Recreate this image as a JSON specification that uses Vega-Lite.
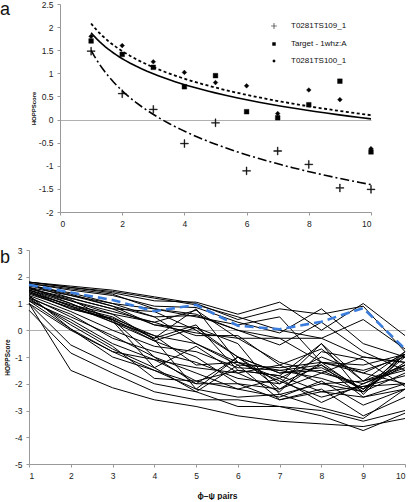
{
"$schema":"https://vega.github.io/schema/vega-lite/v6.json",
"padding":{"left":0,"top":0,"right":0,"bottom":0},
"spacing":18,
"config":{"font":"Liberation Sans","view":{"stroke":null},
"axis":{"grid":false,"labelFontSize":8.5,"labelColor":"#222","domainColor":"#999","tickColor":"#999","tickSize":3,"labelPadding":4,"titleFontWeight":"bold","titleColor":"#111","labelOverlap":false},
"title":{"fontSize":18,"fontWeight":"normal","anchor":"start","frame":"group","color":"#111","baseline":"alphabetic"}},
"datasets":{
"a":[
{"series":"T0281TS109_1","x":1,"y":1.48},{"series":"T0281TS109_1","x":2,"y":0.56},{"series":"T0281TS109_1","x":3,"y":0.22},{"series":"T0281TS109_1","x":4,"y":-0.52},{"series":"T0281TS109_1","x":5,"y":-0.07},{"series":"T0281TS109_1","x":6,"y":-1.11},{"series":"T0281TS109_1","x":7,"y":-0.68},{"series":"T0281TS109_1","x":8,"y":-0.97},{"series":"T0281TS109_1","x":9,"y":-1.48},{"series":"T0281TS109_1","x":10,"y":-1.51},
{"series":"Target - 1whz:A","x":1,"y":1.70},{"series":"Target - 1whz:A","x":2,"y":1.41},{"series":"Target - 1whz:A","x":3,"y":1.13},{"series":"Target - 1whz:A","x":4,"y":0.71},{"series":"Target - 1whz:A","x":5,"y":0.95},{"series":"Target - 1whz:A","x":6,"y":0.17},{"series":"Target - 1whz:A","x":7,"y":0.04},{"series":"Target - 1whz:A","x":8,"y":0.32},{"series":"Target - 1whz:A","x":9,"y":0.83},{"series":"Target - 1whz:A","x":10,"y":-0.70},
{"series":"T0281TS100_1","x":1,"y":1.80},{"series":"T0281TS100_1","x":2,"y":1.60},{"series":"T0281TS100_1","x":3,"y":1.25},{"series":"T0281TS100_1","x":4,"y":1.02},{"series":"T0281TS100_1","x":5,"y":0.80},{"series":"T0281TS100_1","x":6,"y":0.73},{"series":"T0281TS100_1","x":7,"y":0.13},{"series":"T0281TS100_1","x":8,"y":0.64},{"series":"T0281TS100_1","x":9,"y":0.43},{"series":"T0281TS100_1","x":10,"y":-0.63}
],
"b":[
{"model":"m1","x":1,"y":1.0},{"model":"m1","x":2,"y":-1.5},{"model":"m1","x":3,"y":-2.15},{"model":"m1","x":4,"y":-2.6},{"model":"m1","x":5,"y":-2.85},{"model":"m1","x":6,"y":-3.2},{"model":"m1","x":7,"y":-3.4},{"model":"m1","x":8,"y":-3.5},{"model":"m1","x":9,"y":-3.6},{"model":"m1","x":10,"y":-3.3},
{"model":"m2","x":1,"y":0.75},{"model":"m2","x":2,"y":-0.85},{"model":"m2","x":3,"y":-1.6},{"model":"m2","x":4,"y":-2.3},{"model":"m2","x":5,"y":-2.6},{"model":"m2","x":6,"y":-2.6},{"model":"m2","x":7,"y":-2.85},{"model":"m2","x":8,"y":-3.0},{"model":"m2","x":9,"y":-3.4},{"model":"m2","x":10,"y":-3.0},
{"model":"m3","x":1,"y":1.0},{"model":"m3","x":2,"y":-0.55},{"model":"m3","x":3,"y":-1.3},{"model":"m3","x":4,"y":-2.0},{"model":"m3","x":5,"y":-2.3},{"model":"m3","x":6,"y":-2.85},{"model":"m3","x":7,"y":-2.85},{"model":"m3","x":8,"y":-3.2},{"model":"m3","x":9,"y":-3.75},{"model":"m3","x":10,"y":-3.1},
{"model":"m4","x":1,"y":1.1},{"model":"m4","x":2,"y":0.05},{"model":"m4","x":3,"y":-1.0},{"model":"m4","x":4,"y":-1.5},{"model":"m4","x":5,"y":-2.2},{"model":"m4","x":6,"y":-2.5},{"model":"m4","x":7,"y":-2.4},{"model":"m4","x":8,"y":-2.9},{"model":"m4","x":9,"y":-3.3},{"model":"m4","x":10,"y":-2.2},
{"model":"m5","x":1,"y":1.2},{"model":"m5","x":2,"y":0.2},{"model":"m5","x":3,"y":-0.7},{"model":"m5","x":4,"y":-1.4},{"model":"m5","x":5,"y":-2.3},{"model":"m5","x":6,"y":-1.3},{"model":"m5","x":7,"y":-2.6},{"model":"m5","x":8,"y":-2.3},{"model":"m5","x":9,"y":-2.5},{"model":"m5","x":10,"y":-2.0},
{"model":"m6","x":1,"y":1.3},{"model":"m6","x":2,"y":0.05},{"model":"m6","x":3,"y":-0.8},{"model":"m6","x":4,"y":-1.1},{"model":"m6","x":5,"y":-1.9},{"model":"m6","x":6,"y":-2.2},{"model":"m6","x":7,"y":-1.8},{"model":"m6","x":8,"y":-2.7},{"model":"m6","x":9,"y":-2.0},{"model":"m6","x":10,"y":-1.3},
{"model":"m7","x":1,"y":1.4},{"model":"m7","x":2,"y":0.8},{"model":"m7","x":3,"y":0.4},{"model":"m7","x":4,"y":-1.0},{"model":"m7","x":5,"y":-2.0},{"model":"m7","x":6,"y":-1.0},{"model":"m7","x":7,"y":-2.2},{"model":"m7","x":8,"y":-1.2},{"model":"m7","x":9,"y":-2.3},{"model":"m7","x":10,"y":-1.0},
{"model":"m8","x":1,"y":1.5},{"model":"m8","x":2,"y":0.9},{"model":"m8","x":3,"y":0.5},{"model":"m8","x":4,"y":-0.3},{"model":"m8","x":5,"y":0.8},{"model":"m8","x":6,"y":-1.2},{"model":"m8","x":7,"y":-1.5},{"model":"m8","x":8,"y":-1.3},{"model":"m8","x":9,"y":-2.2},{"model":"m8","x":10,"y":-0.9},
{"model":"m9","x":1,"y":1.6},{"model":"m9","x":2,"y":1.0},{"model":"m9","x":3,"y":0.3},{"model":"m9","x":4,"y":-0.4},{"model":"m9","x":5,"y":0.1},{"model":"m9","x":6,"y":-1.0},{"model":"m9","x":7,"y":-2.0},{"model":"m9","x":8,"y":-0.5},{"model":"m9","x":9,"y":-1.9},{"model":"m9","x":10,"y":-0.8},
{"model":"m10","x":1,"y":1.7},{"model":"m10","x":2,"y":1.2},{"model":"m10","x":3,"y":0.8},{"model":"m10","x":4,"y":0.2},{"model":"m10","x":5,"y":-0.1},{"model":"m10","x":6,"y":-0.3},{"model":"m10","x":7,"y":-1.2},{"model":"m10","x":8,"y":-1.6},{"model":"m10","x":9,"y":-1.0},{"model":"m10","x":10,"y":-1.2},
{"model":"m11","x":1,"y":1.8},{"model":"m11","x":2,"y":1.6},{"model":"m11","x":3,"y":1.4},{"model":"m11","x":4,"y":1.1},{"model":"m11","x":5,"y":1.05},{"model":"m11","x":6,"y":0.6},{"model":"m11","x":7,"y":1.05},{"model":"m11","x":8,"y":0.0},{"model":"m11","x":9,"y":1.0},{"model":"m11","x":10,"y":-0.2},
{"model":"m12","x":1,"y":1.8},{"model":"m12","x":2,"y":1.65},{"model":"m12","x":3,"y":1.5},{"model":"m12","x":4,"y":1.25},{"model":"m12","x":5,"y":1.0},{"model":"m12","x":6,"y":0.4},{"model":"m12","x":7,"y":0.8},{"model":"m12","x":8,"y":0.6},{"model":"m12","x":9,"y":0.9},{"model":"m12","x":10,"y":-0.8},
{"model":"m13","x":1,"y":1.75},{"model":"m13","x":2,"y":1.5},{"model":"m13","x":3,"y":1.3},{"model":"m13","x":4,"y":0.9},{"model":"m13","x":5,"y":0.85},{"model":"m13","x":6,"y":0.3},{"model":"m13","x":7,"y":-0.1},{"model":"m13","x":8,"y":0.8},{"model":"m13","x":9,"y":-0.5},{"model":"m13","x":10,"y":-1.0},
{"model":"m14","x":1,"y":1.7},{"model":"m14","x":2,"y":1.3},{"model":"m14","x":3,"y":0.9},{"model":"m14","x":4,"y":0.5},{"model":"m14","x":5,"y":0.55},{"model":"m14","x":6,"y":0.0},{"model":"m14","x":7,"y":-0.55},{"model":"m14","x":8,"y":0.3},{"model":"m14","x":9,"y":-0.8},{"model":"m14","x":10,"y":-1.5},
{"model":"m15","x":1,"y":1.6},{"model":"m15","x":2,"y":1.1},{"model":"m15","x":3,"y":0.7},{"model":"m15","x":4,"y":0.3},{"model":"m15","x":5,"y":0.75},{"model":"m15","x":6,"y":-0.3},{"model":"m15","x":7,"y":-0.3},{"model":"m15","x":8,"y":-0.3},{"model":"m15","x":9,"y":-1.0},{"model":"m15","x":10,"y":-1.2},
{"model":"m16","x":1,"y":1.5},{"model":"m16","x":2,"y":1.0},{"model":"m16","x":3,"y":0.4},{"model":"m16","x":4,"y":-0.3},{"model":"m16","x":5,"y":0.2},{"model":"m16","x":6,"y":-1.5},{"model":"m16","x":7,"y":-1.7},{"model":"m16","x":8,"y":-0.5},{"model":"m16","x":9,"y":-2.4},{"model":"m16","x":10,"y":-0.9},
{"model":"m17","x":1,"y":1.45},{"model":"m17","x":2,"y":0.9},{"model":"m17","x":3,"y":0.3},{"model":"m17","x":4,"y":-0.2},{"model":"m17","x":5,"y":-0.5},{"model":"m17","x":6,"y":-1.2},{"model":"m17","x":7,"y":-1.8},{"model":"m17","x":8,"y":-1.0},{"model":"m17","x":9,"y":-1.6},{"model":"m17","x":10,"y":-2.0},
{"model":"m18","x":1,"y":1.3},{"model":"m18","x":2,"y":0.7},{"model":"m18","x":3,"y":0.0},{"model":"m18","x":4,"y":-0.6},{"model":"m18","x":5,"y":-0.8},{"model":"m18","x":6,"y":-1.4},{"model":"m18","x":7,"y":-1.5},{"model":"m18","x":8,"y":-1.8},{"model":"m18","x":9,"y":-2.3},{"model":"m18","x":10,"y":-1.6},
{"model":"m19","x":1,"y":1.2},{"model":"m19","x":2,"y":0.6},{"model":"m19","x":3,"y":-0.3},{"model":"m19","x":4,"y":-0.8},{"model":"m19","x":5,"y":-1.2},{"model":"m19","x":6,"y":-1.8},{"model":"m19","x":7,"y":-2.0},{"model":"m19","x":8,"y":-1.3},{"model":"m19","x":9,"y":-2.5},{"model":"m19","x":10,"y":-2.2},
{"model":"m20","x":1,"y":1.1},{"model":"m20","x":2,"y":0.4},{"model":"m20","x":3,"y":-0.5},{"model":"m20","x":4,"y":-1.1},{"model":"m20","x":5,"y":-1.4},{"model":"m20","x":6,"y":-1.6},{"model":"m20","x":7,"y":-1.3},{"model":"m20","x":8,"y":-2.0},{"model":"m20","x":9,"y":-1.9},{"model":"m20","x":10,"y":-1.5},
{"model":"m21","x":1,"y":1.65},{"model":"m21","x":2,"y":1.4},{"model":"m21","x":3,"y":1.0},{"model":"m21","x":4,"y":0.8},{"model":"m21","x":5,"y":0.6},{"model":"m21","x":6,"y":0.0},{"model":"m21","x":7,"y":-0.3},{"model":"m21","x":8,"y":-1.2},{"model":"m21","x":9,"y":-1.3},{"model":"m21","x":10,"y":-0.9},
{"model":"m22","x":1,"y":1.55},{"model":"m22","x":2,"y":1.2},{"model":"m22","x":3,"y":0.8},{"model":"m22","x":4,"y":0.7},{"model":"m22","x":5,"y":0.0},{"model":"m22","x":6,"y":-1.0},{"model":"m22","x":7,"y":-1.6},{"model":"m22","x":8,"y":-1.5},{"model":"m22","x":9,"y":-2.2},{"model":"m22","x":10,"y":-1.3},
{"model":"m23","x":1,"y":1.35},{"model":"m23","x":2,"y":0.85},{"model":"m23","x":3,"y":0.4},{"model":"m23","x":4,"y":-0.4},{"model":"m23","x":5,"y":-1.0},{"model":"m23","x":6,"y":-2.0},{"model":"m23","x":7,"y":-2.2},{"model":"m23","x":8,"y":-1.6},{"model":"m23","x":9,"y":-2.0},{"model":"m23","x":10,"y":-1.4},
{"model":"m24","x":1,"y":1.25},{"model":"m24","x":2,"y":0.5},{"model":"m24","x":3,"y":-0.2},{"model":"m24","x":4,"y":-1.0},{"model":"m24","x":5,"y":-1.6},{"model":"m24","x":6,"y":-2.2},{"model":"m24","x":7,"y":-2.5},{"model":"m24","x":8,"y":-1.9},{"model":"m24","x":9,"y":-2.8},{"model":"m24","x":10,"y":-2.2},
{"model":"m25","x":1,"y":1.15},{"model":"m25","x":2,"y":0.3},{"model":"m25","x":3,"y":-0.6},{"model":"m25","x":4,"y":-1.8},{"model":"m25","x":5,"y":-1.9},{"model":"m25","x":6,"y":-1.5},{"model":"m25","x":7,"y":-1.7},{"model":"m25","x":8,"y":-2.3},{"model":"m25","x":9,"y":-2.1},{"model":"m25","x":10,"y":-2.0},
{"model":"m26","x":1,"y":1.6},{"model":"m26","x":2,"y":1.3},{"model":"m26","x":3,"y":1.0},{"model":"m26","x":4,"y":0.5},{"model":"m26","x":5,"y":-0.5},{"model":"m26","x":6,"y":-1.3},{"model":"m26","x":7,"y":-1.4},{"model":"m26","x":8,"y":-1.2},{"model":"m26","x":9,"y":-1.5},{"model":"m26","x":10,"y":-1.0},
{"model":"m27","x":1,"y":1.7},{"model":"m27","x":2,"y":1.35},{"model":"m27","x":3,"y":0.9},{"model":"m27","x":4,"y":0.2},{"model":"m27","x":5,"y":0.1},{"model":"m27","x":6,"y":-0.5},{"model":"m27","x":7,"y":-2.4},{"model":"m27","x":8,"y":-2.0},{"model":"m27","x":9,"y":-2.3},{"model":"m27","x":10,"y":-0.8},
{"model":"m28","x":1,"y":1.4},{"model":"m28","x":2,"y":0.95},{"model":"m28","x":3,"y":0.6},{"model":"m28","x":4,"y":-0.35},{"model":"m28","x":5,"y":-2.2},{"model":"m28","x":6,"y":-1.0},{"model":"m28","x":7,"y":-1.6},{"model":"m28","x":8,"y":-1.4},{"model":"m28","x":9,"y":-2.2},{"model":"m28","x":10,"y":-1.2},
{"model":"m29","x":1,"y":1.5},{"model":"m29","x":2,"y":1.1},{"model":"m29","x":3,"y":0.6},{"model":"m29","x":4,"y":0.3},{"model":"m29","x":5,"y":-0.2},{"model":"m29","x":6,"y":-0.2},{"model":"m29","x":7,"y":-1.3},{"model":"m29","x":8,"y":-0.7},{"model":"m29","x":9,"y":-1.9},{"model":"m29","x":10,"y":-1.3},
{"model":"m30","x":1,"y":1.75},{"model":"m30","x":2,"y":1.55},{"model":"m30","x":3,"y":1.35},{"model":"m30","x":4,"y":0.8},{"model":"m30","x":5,"y":0.5},{"model":"m30","x":6,"y":0.2},{"model":"m30","x":7,"y":0.5},{"model":"m30","x":8,"y":-1.2},{"model":"m30","x":9,"y":-1.6},{"model":"m30","x":10,"y":-0.9},
{"model":"m31","x":1,"y":1.0},{"model":"m31","x":2,"y":0.0},{"model":"m31","x":3,"y":-0.8},{"model":"m31","x":4,"y":-1.5},{"model":"m31","x":5,"y":-2.0},{"model":"m31","x":6,"y":-2.0},{"model":"m31","x":7,"y":-2.6},{"model":"m31","x":8,"y":-2.2},{"model":"m31","x":9,"y":-3.2},{"model":"m31","x":10,"y":-2.5},
{"model":"m32","x":1,"y":1.8},{"model":"m32","x":2,"y":1.6},{"model":"m32","x":3,"y":1.45},{"model":"m32","x":4,"y":1.2},{"model":"m32","x":5,"y":0.95},{"model":"m32","x":6,"y":0.5},{"model":"m32","x":7,"y":0.0},{"model":"m32","x":8,"y":-0.3},{"model":"m32","x":9,"y":0.4},{"model":"m32","x":10,"y":-0.7},
{"model":"m33","x":1,"y":1.45},{"model":"m33","x":2,"y":0.8},{"model":"m33","x":3,"y":0.45},{"model":"m33","x":4,"y":-0.2},{"model":"m33","x":5,"y":-1.3},{"model":"m33","x":6,"y":-1.2},{"model":"m33","x":7,"y":-1.9},{"model":"m33","x":8,"y":-2.5},{"model":"m33","x":9,"y":-2.1},{"model":"m33","x":10,"y":-1.7},
{"model":"m34","x":1,"y":1.55},{"model":"m34","x":2,"y":1.15},{"model":"m34","x":3,"y":0.35},{"model":"m34","x":4,"y":-1.4},{"model":"m34","x":5,"y":-0.6},{"model":"m34","x":6,"y":-1.6},{"model":"m34","x":7,"y":-2.3},{"model":"m34","x":8,"y":-0.8},{"model":"m34","x":9,"y":-1.1},{"model":"m34","x":10,"y":-2.1}
]},
"vconcat":[
{"spacing":0,"hconcat":[
{"width":1,"height":208,
"title":{"text":"a","dx":-29,"offset":-14.5},
"data":{"values":[]},
"mark":"point","encoding":{}},
{"width":311,"height":208,
"data":{"name":"a"},
"encoding":{
"x":{"field":"x","type":"quantitative","scale":{"domain":[0,10],"nice":false},"axis":{"values":[0,2,4,6,8,10],"title":null,"labelExpr":"''+datum.value"}},
"y":{"field":"y","type":"quantitative","scale":{"domain":[-2,2.5],"nice":false},"axis":{"values":[-2,-1.5,-1,-0.5,0,0.5,1,1.5,2,2.5],"title":"HOPPScore","titleFontSize":6,"titlePadding":2,"labelExpr":"''+datum.value","grid":true,"gridColor":"#b0b0b0","gridOpacity":{"condition":{"test":"datum.value === 0","value":1},"value":0}}}},
"layer":[
{"transform":[{"filter":"datum.series === 'T0281TS109_1'"},{"regression":"y","on":"x","method":"log","extent":[1,10]}],
"mark":{"type":"line","color":"black","strokeWidth":1.6,"strokeDash":[9,3,2,3]}},
{"transform":[{"filter":"datum.series === 'Target - 1whz:A'"},{"regression":"y","on":"x","method":"log","extent":[1,10]}],
"mark":{"type":"line","color":"black","strokeWidth":1.6}},
{"transform":[{"filter":"datum.series === 'T0281TS100_1'"},{"regression":"y","on":"x","method":"log","extent":[1,10]}],
"mark":{"type":"line","color":"black","strokeWidth":1.8,"strokeDash":[3,2.5]}},
{"mark":{"type":"point","opacity":1,"filled":true,"fill":"black","stroke":"black","strokeWidth":0.4,"size":22},
"encoding":{
"shape":{"field":"series","type":"nominal","scale":{"domain":["T0281TS109_1","Target - 1whz:A","T0281TS100_1"],"range":["M-1.7,-0.17H-0.17V-1.7H0.17V-0.17H1.7V0.17H0.17V1.7H-0.17V0.17H-1.7Z","square","diamond"]},
"legend":{"title":null,"orient":"none","legendX":241,"legendY":18,"labelFontSize":8,"labelColor":"#111","symbolSize":12,"symbolFillColor":"black","symbolStrokeColor":"black","symbolStrokeWidth":0.6,"rowPadding":9,"labelOffset":13,
"encode":{"symbols":{"update":{"stroke":{"value":"black"},"strokeWidth":{"value":0.6},"fill":{"value":"black"},"opacity":{"value":1}}}}}}}}
]}
]},
{"width":376,"height":214,
"title":{"text":"b","dx":-29,"offset":-21},
"encoding":{
"x":{"field":"x","type":"quantitative","scale":{"domain":[1,10],"nice":false},"axis":{"values":[1,2,3,4,5,6,7,8,9,10],"title":"ϕ–ψ pairs","titleFontSize":8.5,"titlePadding":12}},
"y":{"field":"y","type":"quantitative","scale":{"domain":[-5,3],"nice":false},"axis":{"values":[-5,-4,-3,-2,-1,0,1,2,3],"title":"HOPPScore","titleFontSize":6.5,"titlePadding":4,"labelExpr":"''+datum.value","grid":true,"gridColor":"#b0b0b0","gridOpacity":{"condition":{"test":"datum.value === 0","value":1},"value":0}}}},
"layer":[
{"data":{"name":"b"},"mark":{"type":"line","color":"black","strokeWidth":1},
"encoding":{"detail":{"field":"model","type":"nominal"}}},
{"data":{"name":"a"},"transform":[{"filter":"datum.series === 'Target - 1whz:A'"}],
"mark":{"type":"line","color":"#3b7ddd","strokeWidth":2.6,"strokeDash":[9,5]}}
]}
]
}
